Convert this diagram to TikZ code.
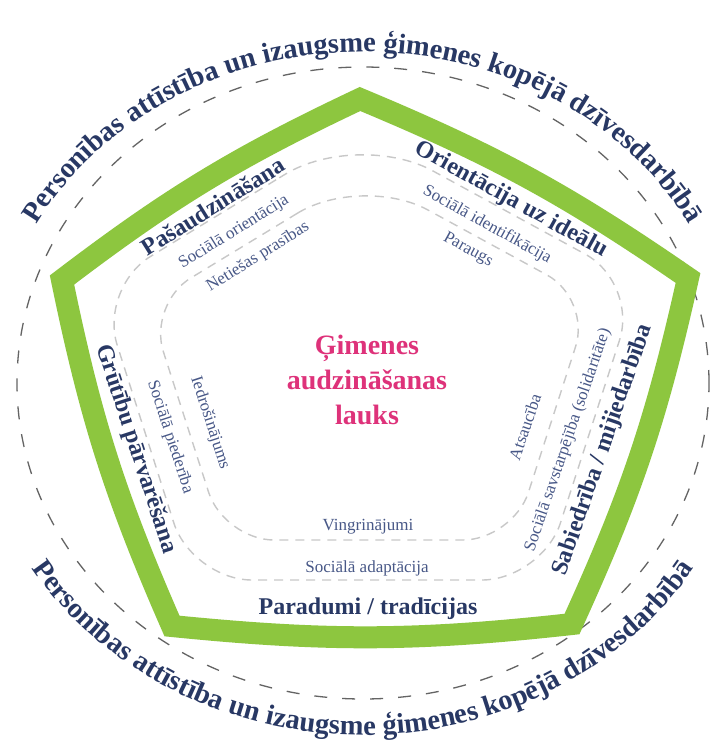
\documentclass[tikz,border=0pt]{standalone}
\usepackage{fontspec}
\setmainfont{Liberation Serif}
\usetikzlibrary{calc,decorations.text}

\definecolor{leaf}{RGB}{141,198,63}
\definecolor{ink}{RGB}{40,56,100}
\definecolor{inkl}{RGB}{72,88,135}
\definecolor{rose}{RGB}{222,50,122}
\definecolor{guidegray}{RGB}{200,200,200}
\definecolor{ringgray}{RGB}{100,100,100}

\tikzset{
  sidelbl/.style={font=\bfseries\fontsize{24}{24}\selectfont, text=ink},
  midlbl/.style={font=\fontsize{17}{17}\selectfont, text=inkl},
  innerlbl/.style={font=\fontsize{17}{17}\selectfont, text=inkl},
  guide/.style={guidegray, line width=1.4pt, dash pattern=on 9pt off 7pt},
  ringtext/.style={decorate, decoration={text along path, text align=center,
    text={|\bfseries\fontsize{28.5}{28.5}\selectfont\color{ink}|#1}}},
}

\begin{document}
\begin{tikzpicture}[x=1pt,y=-1pt]
  \fill[white] (0,0) rectangle (719,742);
  \useasboundingbox (0,0) rectangle (719,742);

  \coordinate (t) at (360,99);
  \coordinate (r) at (688,278);
  \coordinate (br) at (572,624);
  \coordinate (bl) at (172,626);
  \coordinate (l) at (62,280);

  % outer ring and its two texts
  \draw[ringgray, line width=1.3pt, dash pattern=on 13pt off 15pt]
    (363,383) ellipse [x radius=346pt, y radius=316pt];
  \path[ringtext={Personības attīstība un izaugsme ģimenes kopējā dzīvesdarbībā}]
    (363,383) ++(151:372pt and 331pt)
    arc[start angle=151, end angle=29, x radius=372pt, y radius=331pt];
  \path[ringtext={Personības attīstība un izaugsme ģimenes kopējā dzīvesdarbībā}]
    (363,383) ++(212:389pt and 352pt)
    arc[start angle=212, end angle=328, x radius=389pt, y radius=352pt];

  % dashed inner rings
  \draw[guide, rounded corners=85pt] (228,209) -- (358,130) [rounded corners=60pt]
    -- (638,283) -- (542,580) -- (192,580) -- (99,288) -- cycle;
  \draw[guide, rounded corners=75pt] (255,239) -- (362,174) [rounded corners=50pt]
    -- (591,299) -- (513,540) -- (224,540) -- (148,304) -- cycle;

  % green frame
  \draw[leaf, line width=22pt, line join=miter]
    (t) to[bend left=6] (r) to[bend left=6] (br) to[bend left=6] (bl)
    to[bend left=6] (l) to[bend left=6] cycle;

  \node[sidelbl, rotate=32] (pas) at (213,206) {Pašaudzināšana};
  \node[midlbl, rotate=32] (sor) at (234,232) {Sociālā orientācija};
  \node[innerlbl, rotate=32] (net) at (258,257) {Netiešas prasības};

  \node[sidelbl, rotate=-29] (ori) at (511,200) {Orientācija uz ideālu};
  \node[midlbl, rotate=-29] (sid) at (487,225) {Sociālā identifikācija};
  \node[innerlbl, rotate=-29] (par) at (468,250) {Paraugs};

  \node[sidelbl, rotate=71] (sab) at (603,450) {Sabiedrība / mijiedarbība};
  \node[midlbl, rotate=71] (sav) at (568,440) {Sociālā savstarpējība (solidaritāte)};
  \node[innerlbl, rotate=71] (ats) at (525,427) {Atsaucība};

  \node[sidelbl] (trad) at (368,609) {Paradumi / tradīcijas};
  \node[midlbl] (adap) at (367,568) {Sociālā adaptācija};
  \node[innerlbl] (ving) at (368,527) {Vingrinājumi};

  \node[sidelbl, rotate=-72] (gru) at (136,449) {Grūtību pārvarēšana};
  \node[midlbl, rotate=-72] (pied) at (170,437) {Sociālā piederība};
  \node[innerlbl, rotate=-72] (iedr) at (210,423) {Iedrošinājums};

  \node[font=\bfseries\fontsize{28}{35}\selectfont, text=rose, align=center]
    (lauks) at (367,380) {Ģimenes\\audzināšanas\\lauks};
\end{tikzpicture}
\end{document}
